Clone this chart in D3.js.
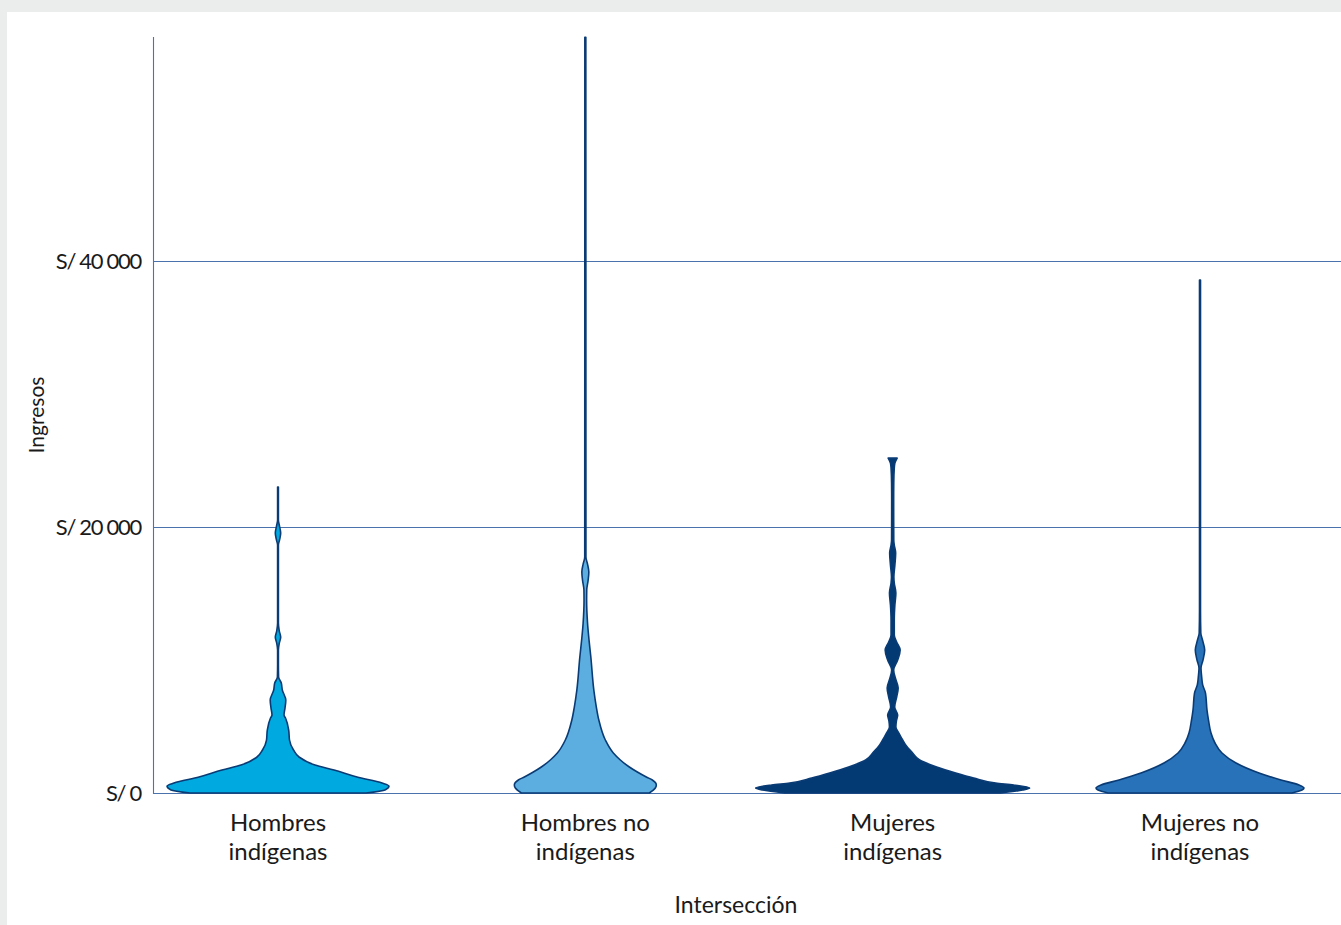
<!DOCTYPE html>
<html>
<head>
<meta charset="utf-8">
<script src="https://cdn.jsdelivr.net/npm/d3@7"></script>
<style>
  html, body { margin: 0; padding: 0; background: #ebeded; }
  svg { display: block; }
  text { font-family: Lato, "Open Sans", sans-serif; fill: #1a1a1a; }
</style>
</head>
<body>
<svg id="chart" width="1341" height="925"></svg>
<script>
// ---------- DATA ----------
const categories = ["Hombres indígenas", "Hombres no indígenas", "Mujeres indígenas", "Mujeres no indígenas"];
const categoryLines = [["Hombres", "indígenas"], ["Hombres no", "indígenas"], ["Mujeres", "indígenas"], ["Mujeres no", "indígenas"]];
const tickValues = [0, 20000, 40000];
const tickLabels = ["S/ 0", "S/ 20 000", "S/ 40 000"];
const yMax = 56800;

// Income levels (soles) and relative density (violin half-width) per group
const hiIncome  = [0, 225, 526, 751, 1202, 1728, 2103, 2704, 3230, 3981, 4732, 5633, 5859, 6384, 6985, 7736, 8262, 8713, 9614, 10741, 11267, 11717, 12168, 12769, 14496, 17501, 18628, 19003, 19529, 20054, 20505, 22984];
const hiDensity = [0.88, 1.07, 1.11, 1.04, 0.79, 0.56, 0.37, 0.21, 0.155, 0.115, 0.107, 0.075, 0.06, 0.07, 0.078, 0.043, 0.033, 0.006, 0.004, 0.004, 0.013, 0.027, 0.013, 0.004, 0.004, 0.004, 0.004, 0.015, 0.027, 0.015, 0.004, 0.004];

const hnIncome  = [0, 376, 601, 976, 1202, 1577, 1953, 2479, 3004, 3981, 5483, 6459, 7736, 10215, 11492, 12769, 14496, 15247, 15998, 16599, 17200, 17726, 56783];
const hnDensity = [0.64, 0.70, 0.71, 0.67, 0.61, 0.52, 0.44, 0.35, 0.28, 0.20, 0.135, 0.11, 0.085, 0.055, 0.037, 0.022, 0.013, 0.014, 0.028, 0.035, 0.022, 0.006, 0.005];

const miIncome  = [0, 225, 376, 601, 751, 1127, 1502, 1953, 2479, 3004, 3605, 3981, 4507, 4957, 5408, 5859, 6459, 7211, 7887, 8563, 9239, 9990, 10741, 11342, 11867, 12994, 14121, 15022, 15773, 16224, 17125, 18026, 18627, 19003, 22007, 23284, 24411, 24786, 25162];
const miDensity = [1.08, 1.30, 1.37, 1.21, 1.03, 0.81, 0.63, 0.44, 0.27, 0.20, 0.13, 0.10, 0.062, 0.032, 0.037, 0.05, 0.02, 0.04, 0.055, 0.03, 0.01, 0.05, 0.075, 0.04, 0.016, 0.016, 0.022, 0.032, 0.016, 0.012, 0.022, 0.03, 0.016, 0.011, 0.01, 0.011, 0.016, 0.022, 0.045];

const mnIncome  = [0, 225, 376, 601, 976, 1502, 2253, 3004, 3756, 4507, 5483, 6234, 7511, 8112, 8713, 9389, 9990, 10741, 11492, 12018, 13745, 38531];
const mnDensity = [0.92, 1.02, 1.04, 0.99, 0.81, 0.59, 0.36, 0.22, 0.15, 0.11, 0.085, 0.07, 0.055, 0.027, 0.017, 0.01, 0.03, 0.047, 0.025, 0.008, 0.005, 0.005];

const groups = [
  { name: categories[0], income: hiIncome, density: hiDensity, fill: "#00a9e0" },
  { name: categories[1], income: hnIncome, density: hnDensity, fill: "#5daee0" },
  { name: categories[2], income: miIncome, density: miDensity, fill: "#033a74" },
  { name: categories[3], income: mnIncome, density: mnDensity, fill: "#2872b9" }
];

// ---------- LAYOUT ----------
const svg = d3.select("#chart");
const panel = { x: 7, y: 12 };
const plot = { left: 153, right: 1341, top: 37, bottom: 793 };

svg.append("rect").attr("x", 0).attr("y", 0).attr("width", 1341).attr("height", 925).attr("fill", "#ebeded");
svg.append("rect").attr("x", panel.x).attr("y", panel.y).attr("width", 1341 - panel.x).attr("height", 925 - panel.y).attr("fill", "#ffffff");

const y = d3.scaleLinear().domain([0, yMax]).range([plot.bottom, plot.top]);
const x = d3.scalePoint().domain(categories).range([278, 1200]);
const w = d3.scaleLinear().domain([0, 1]).range([0, 100]);

const gridColor = "#4a72ad";

// gridlines
svg.append("g").selectAll("line").data(tickValues).join("line")
  .attr("x1", plot.left).attr("x2", plot.right)
  .attr("y1", d => Math.round(y(d)) + 0.5).attr("y2", d => Math.round(y(d)) + 0.5)
  .attr("stroke", gridColor).attr("stroke-width", 1.1);

// y axis line
svg.append("line")
  .attr("x1", plot.left + 0.5).attr("x2", plot.left + 0.5)
  .attr("y1", plot.top).attr("y2", plot.bottom + 1)
  .attr("stroke", gridColor).attr("stroke-width", 1.1);

// y tick labels
svg.append("g").selectAll("text").data(tickValues).join("text")
  .attr("x", 141).attr("y", d => y(d) + 8)
  .attr("text-anchor", "end")
  .attr("font-size", 22).attr("letter-spacing", "-1.3px")
  .text((d, i) => tickLabels[i]);

// violins
const area = d3.area()
  .curve(d3.curveMonotoneY)
  .y(d => y(d.v));

groups.forEach(g => {
  const cx = x(g.name);
  const pts = g.income.map((v, i) => ({ v, d: g.density[i] }));
  svg.append("path")
    .datum(pts)
    .attr("d", area.x0(d => cx - w(d.d)).x1(d => cx + w(d.d)))
    .attr("fill", g.fill)
    .attr("stroke", "#0a3b74")
    .attr("stroke-width", 1.6)
    .attr("stroke-linejoin", "round");
});

// category labels
const lab = svg.append("g");
categories.forEach((c, i) => {
  const t = lab.append("text")
    .attr("text-anchor", "middle")
    .attr("font-size", 24);
  categoryLines[i].forEach((line, j) => {
    t.append("tspan").attr("x", x(c)).attr("y", 831 + j * 29).text(line);
  });
});

// axis titles
svg.append("text")
  .attr("x", 736).attr("y", 913)
  .attr("text-anchor", "middle").attr("font-size", 23)
  .text("Intersección");

svg.append("text")
  .attr("transform", "translate(44,415) rotate(-90)")
  .attr("text-anchor", "middle").attr("font-size", 21)
  .text("Ingresos");
</script>
</body>
</html>
